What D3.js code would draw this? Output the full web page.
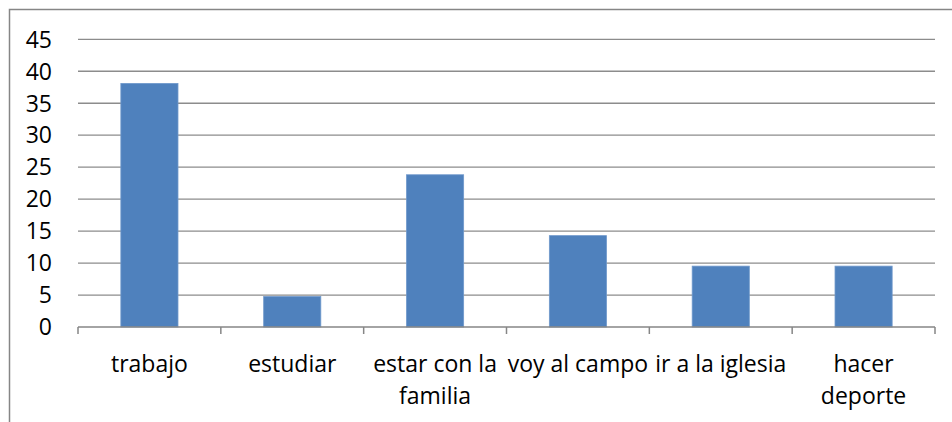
<!DOCTYPE html>
<html>
<head>
<meta charset="utf-8">
<script src="https://cdn.jsdelivr.net/npm/d3@7"></script>
<style>
  body { margin: 0; background: #fff; }
  svg { display: block; }
  text { font-family: "Open Sans", "Noto Sans", sans-serif; fill: #000; }
</style>
</head>
<body>
<div id="chart"></div>
<script>
// datos
var categories = ["trabajo", "estudiar", "estar con la familia", "voy al campo", "ir a la iglesia", "hacer deporte"];
var tickLabels = [["trabajo"], ["estudiar"], ["estar con la", "familia"], ["voy al campo"], ["ir a la iglesia"], ["hacer", "deporte"]];
var values = [38.1, 4.76, 23.81, 14.29, 9.52, 9.52];
var yTicks = [0, 5, 10, 15, 20, 25, 30, 35, 40, 45];

var width = 952;
var height = 422;
var margin = { top: 39.3, right: 17, bottom: 95, left: 78 };

var svg = d3.select('#chart')
    .append('svg')
    .attr('width', width)
    .attr('height', height);

// marco exterior (se corta a la derecha y abajo)
svg.append('rect')
    .attr('x', 9.5)
    .attr('y', 9.5)
    .attr('width', 980)
    .attr('height', 440)
    .attr('fill', 'none')
    .attr('stroke', '#868686')
    .attr('stroke-width', 1.5);

var x = d3.scaleBand()
    .domain(categories)
    .range([margin.left, width - margin.right])
    .paddingInner(0.6)
    .paddingOuter(0.3);

var y = d3.scaleLinear()
    .domain([0, 45])
    .range([327, margin.top]);

// lineas de cuadricula
svg.append('g')
    .selectAll('line')
    .data(yTicks.filter(d => d > 0))
    .enter()
    .append('line')
    .attr('x1', margin.left)
    .attr('x2', width - margin.right)
    .attr('y1', d => y(d))
    .attr('y2', d => y(d))
    .attr('stroke', '#8c8c8c')
    .attr('stroke-width', 1.3);

// etiquetas eje Y
svg.append('g')
    .selectAll('text')
    .data(yTicks)
    .enter()
    .append('text')
    .attr('x', 52)
    .attr('y', d => y(d))
    .attr('dy', '0.36em')
    .attr('text-anchor', 'end')
    .attr('font-size', 23)
    .text(d => d);

// barras
svg.append('g')
    .selectAll('rect')
    .data(values)
    .enter()
    .append('rect')
    .attr('x', (d, i) => x(categories[i]))
    .attr('y', d => y(d))
    .attr('width', x.bandwidth())
    .attr('height', d => y(0) - y(d))
    .attr('fill', '#4f81bd')
    .attr('stroke', '#6f98cb')
    .attr('stroke-width', 0.8);

// eje X
var step = (width - margin.right - margin.left) / categories.length;
var axisX = svg.append('g');
axisX.append('line')
    .attr('x1', margin.left)
    .attr('x2', width - margin.right)
    .attr('y1', y(0))
    .attr('y2', y(0))
    .attr('stroke', '#868686')
    .attr('stroke-width', 1.5);

axisX.selectAll('.tick')
    .data(d3.range(categories.length + 1))
    .enter()
    .append('line')
    .attr('class', 'tick')
    .attr('x1', i => margin.left + i * step)
    .attr('x2', i => margin.left + i * step)
    .attr('y1', y(0))
    .attr('y2', y(0) + 7)
    .attr('stroke', '#868686')
    .attr('stroke-width', 1.5);

var labels = axisX.selectAll('.lbl')
    .data(categories)
    .enter()
    .append('text')
    .attr('class', 'lbl')
    .attr('text-anchor', 'middle')
    .attr('font-size', 23)
    .attr('y', 371.5);

labels.each(function(d, i) {
    var t = d3.select(this);
    tickLabels[i].forEach(function(line, j) {
        t.append('tspan')
            .attr('x', x(d) + x.bandwidth() / 2)
            .attr('y', 371.5 + j * 32)
            .text(line);
    });
});
</script>
</body>
</html>
